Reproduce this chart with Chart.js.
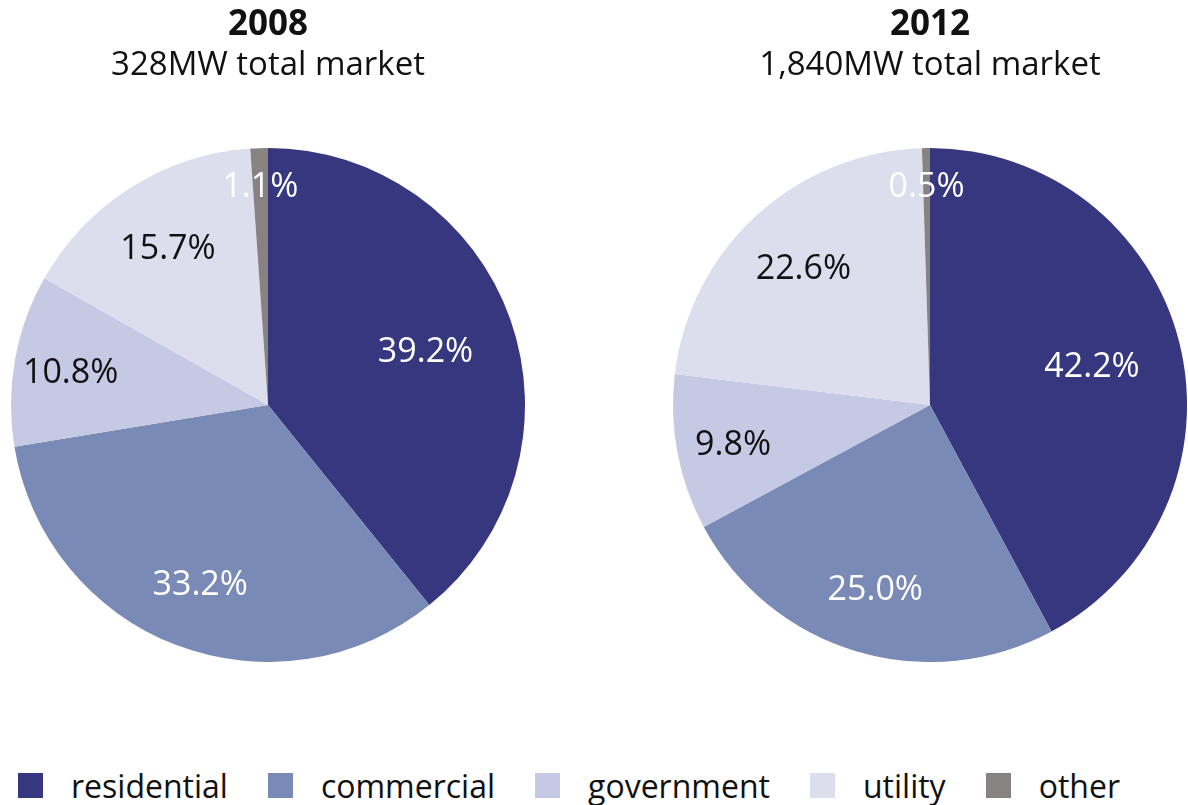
<!DOCTYPE html>
<html>
<head>
<meta charset="utf-8">
<script src="https://cdn.jsdelivr.net/npm/chart.js@4"></script>
<style>
  body { margin: 0; background: #fff; font-family: "Open Sans", sans-serif; }
  #wrap { position: relative; width: 1188px; height: 805px; }
  .pie { position: absolute; top: 0; width: 536px; height: 662px; }
  #legend { position: absolute; left: 18px; top: 766px; height: 38px; display: flex; align-items: center; font-size: 32px; color: #111; }
  #legend span.box { display: inline-block; width: 25px; height: 25px; margin-right: 28px; }
  #legend span.item { display: flex; align-items: center; margin-right: 40px; }
</style>
</head>
<body>
<div id="wrap">
  <div class="pie" style="left:0"><canvas id="pie2008"></canvas></div>
  <div class="pie" style="left:662px"><canvas id="pie2012"></canvas></div>
  <div id="legend"></div>
</div>
<script>
const segments = ["residential", "commercial", "government", "utility", "other"];
const share2008 = [39.2, 33.2, 10.8, 15.7, 1.1];
const share2012 = [42.2, 25.0, 9.8, 22.6, 0.5];
const years = ["2008", "2012"];
const totals = ["328MW total market", "1,840MW total market"];

const colors = ["#37377f", "#7a8ab7", "#c5c9e4", "#dcdeed", "#878383"];
const labelColors = ["#fff", "#fff", "#111", "#111", "#fff"];
// how far out (fraction of radius) each percent label sits
const labelRadius = [0.65, 0.74, 0.78, 0.73, 0.86];

// percent labels inside the slices
const sliceLabels = {
  id: "sliceLabels",
  afterDatasetsDraw(chart) {
    const ctx = chart.ctx;
    const meta = chart.getDatasetMeta(0);
    const data = chart.data.datasets[0].data;
    ctx.save();
    ctx.font = "34px 'Open Sans'";
    ctx.textAlign = "center";
    ctx.textBaseline = "middle";
    meta.data.forEach((arc, i) => {
      const mid = (arc.startAngle + arc.endAngle) / 2;
      const r = arc.outerRadius * labelRadius[i];
      ctx.fillStyle = labelColors[i];
      ctx.fillText(data[i].toFixed(1) + "%", arc.x + Math.cos(mid) * r, arc.y + Math.sin(mid) * r + 3);
    });
    ctx.restore();
  },
};

function makePie(id, year, total, values) {
  const ctx = document.getElementById(id).getContext("2d");
  new Chart(ctx, {
    type: "pie",
    data: {
      labels: segments,
      datasets: [
        {
          data: values,
          backgroundColor: colors,
          borderWidth: 0,
        },
      ],
    },
    options: {
      responsive: true,
      maintainAspectRatio: false,
      animation: false,
      layout: { padding: 0 },
      plugins: {
        legend: { display: false },
        tooltip: { enabled: false },
        title: {
          display: true,
          text: year,
          color: "#111",
          font: { family: "'Open Sans'", size: 35, weight: "bold", lineHeight: 1.2 },
          padding: { top: 4, bottom: 0 },
        },
        subtitle: {
          display: true,
          text: total,
          color: "#111",
          font: { family: "'Open Sans'", size: 33, lineHeight: 1.2 },
          padding: { top: 0, bottom: 62.4 },
        },
      },
    },
    plugins: [sliceLabels],
  });
}

makePie("pie2008", years[0], totals[0], share2008);
makePie("pie2012", years[1], totals[1], share2012);

// legend along the bottom
const legend = document.getElementById("legend");
segments.forEach((name, i) => {
  const item = document.createElement("span");
  item.className = "item";
  item.innerHTML = '<span class="box" style="background:' + colors[i] + '"></span>' + name;
  legend.appendChild(item);
});
</script>
</body>
</html>
